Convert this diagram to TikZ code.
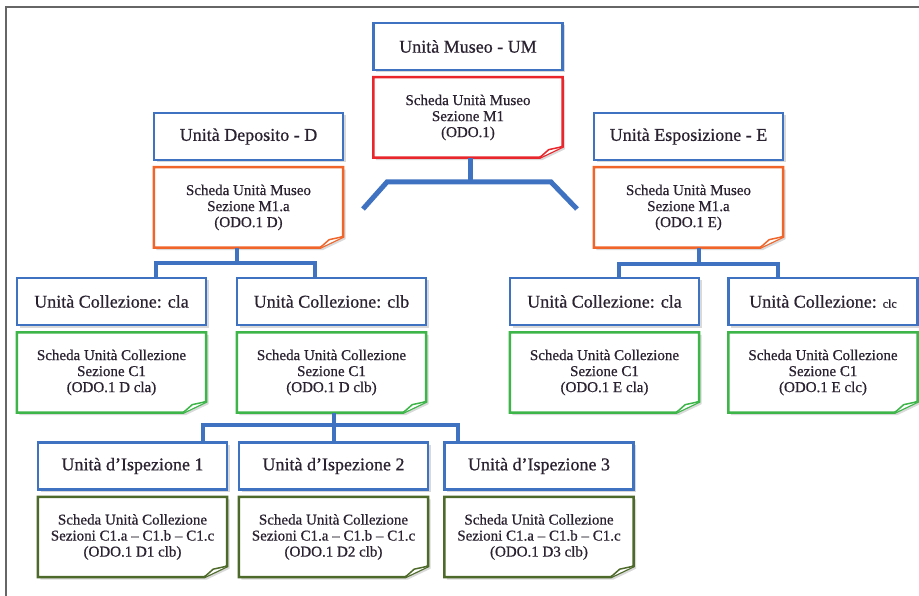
\documentclass[tikz,border=0pt]{standalone}
\usepackage{fontspec}
\setmainfont{Liberation Serif}
\newfontfamily\scrittura{Liberation Serif}[FakeBold=0.7]
\usetikzlibrary{positioning,shadows,backgrounds,calc}

\definecolor{blu}{HTML}{3F72C0}
\definecolor{rosso}{HTML}{E8262B}
\definecolor{arancio}{HTML}{F0652A}
\definecolor{verde}{HTML}{3DB549}
\definecolor{oliva}{HTML}{4E6A2A}
\definecolor{testo}{HTML}{2A2230}

\tikzset{
  ombra/.style={drop shadow={shadow xshift=2.5pt,shadow yshift=-2.5pt,opacity=.3,fill=black!50}},
  titolo/.style={draw=blu,line width=2.5pt,fill=white,ombra,minimum width=189pt,minimum height=47pt,inner sep=0pt,text=testo,font=\scrittura\fontsize{18}{21}\selectfont},
  scheda/.style={minimum width=189pt,minimum height=80pt,inner sep=0pt,align=center,text=testo,font=\scrittura\fontsize{15}{16}\selectfont},
  ramo/.style={draw=blu,line width=4.5pt},
  cornice/.style={draw=black!60,line width=2pt},
}

% foglio con angolo piegato: #1 nodo, #2 colore
\newcommand{\foglio}[2]{%
  \begin{pgfonlayer}{background}
    \draw[#2,line width=2.5pt,fill=white,ombra] (#1.north west) -- (#1.north east) -- ([yshift=11pt]#1.south east) -- ([xshift=-23pt]#1.south east) -- (#1.south west) -- cycle;
    \draw[#2,line width=1.5pt,fill=white,line join=round] ([xshift=-23pt]#1.south east) -- ([xshift=-14pt,yshift=8pt]#1.south east) -- ([yshift=11pt]#1.south east);
  \end{pgfonlayer}}

\begin{document}
\begin{tikzpicture}[x=1pt,y=-1pt]
\useasboundingbox (0,0) rectangle (919,596);
\draw[cornice] (6,596) -- (6,7) -- (919,7);

% museo
\node[titolo] (umT) at (468,46.5) {Unità Museo - UM};
\node[scheda,below=6pt of umT] (umS) {Scheda Unità Museo\\Sezione M1\\(ODO.1)}; \foglio{umS}{rosso}

% deposito / esposizione
\node[titolo] (depT) at (248.5,136.5) {Unità Deposito - D};
\node[scheda,below=6pt of depT] (depS) {Scheda Unità Museo\\Sezione M1.a\\(ODO.1 D)}; \foglio{depS}{arancio}
\node[titolo] (espT) at (688.5,136.5) {Unità Esposizione - E};
\node[scheda,below=6pt of espT] (espS) {Scheda Unità Museo\\Sezione M1.a\\(ODO.1 E)}; \foglio{espS}{arancio}

% collezioni
\node[titolo] (colA) at (111.5,301.5) {Unità Collezione: cla};
\node[scheda,below=6pt of colA] (colAS) {Scheda Unità Collezione\\Sezione C1\\(ODO.1 D cla)}; \foglio{colAS}{verde}
\node[titolo] (colB) at (331.5,301.5) {Unità Collezione: clb};
\node[scheda,below=6pt of colB] (colBS) {Scheda Unità Collezione\\Sezione C1\\(ODO.1 D clb)}; \foglio{colBS}{verde}
\node[titolo] (colC) at (604.5,301.5) {Unità Collezione: cla};
\node[scheda,below=6pt of colC] (colCS) {Scheda Unità Collezione\\Sezione C1\\(ODO.1 E cla)}; \foglio{colCS}{verde}
\node[titolo] (colD) at (823,301.5) {Unità Collezione: {\fontsize{12}{12}\selectfont clc}};
\node[scheda,below=6pt of colD] (colDS) {Scheda Unità Collezione\\Sezione C1\\(ODO.1 E clc)}; \foglio{colDS}{verde}

% ispezioni
\node[titolo] (isp1T) at (132.5,466) {Unità d’Ispezione 1};
\node[scheda,below=6pt of isp1T] (isp1S) {Scheda Unità Collezione\\Sezioni C1.a – C1.b – C1.c\\(ODO.1 D1 clb)}; \foglio{isp1S}{oliva}
\node[titolo] (isp2T) at (333.5,466) {Unità d’Ispezione 2};
\node[scheda,below=6pt of isp2T] (isp2S) {Scheda Unità Collezione\\Sezioni C1.a – C1.b – C1.c\\(ODO.1 D2 clb)}; \foglio{isp2S}{oliva}
\node[titolo] (isp3T) at (539,466) {Unità d’Ispezione 3};
\node[scheda,below=6pt of isp3T] (isp3S) {Scheda Unità Collezione\\Sezioni C1.a – C1.b – C1.c\\(ODO.1 D3 clb)}; \foglio{isp3S}{oliva}

% rami
\coordinate (umJ) at (470,182); \coordinate (umL) at (387,182); \coordinate (umR) at (551,182);
\coordinate (umLL) at (363,209); \coordinate (umRR) at (577,209);
\draw[ramo,line width=5pt] (umS.south -| umJ) -- (umJ);
\draw[ramo,line width=5pt] (umLL) -- (umL) -- (umR) -- (umRR);

\coordinate (depJ) at (237,263);
\draw[ramo] (depS.south -| depJ) -- (depJ);
\draw[ramo] ([xshift=44.5pt]colA.north) |- (depJ) -| ([xshift=-16.5pt]colB.north);

\coordinate (espJ) at (699,264);
\draw[ramo] (espS.south -| espJ) -- (espJ);
\draw[ramo] ([xshift=14.5pt]colC.north) |- (espJ) -| ([xshift=-45pt]colD.north);

\coordinate (ispJ) at (334,425);
\draw[ramo] (colBS.south -| ispJ) -- (ispJ) -- (isp2T.north -| ispJ);
\draw[ramo] ([xshift=70.5pt]isp1T.north) |- (ispJ) -| ([xshift=-81pt]isp3T.north);
\end{tikzpicture}
\end{document}
